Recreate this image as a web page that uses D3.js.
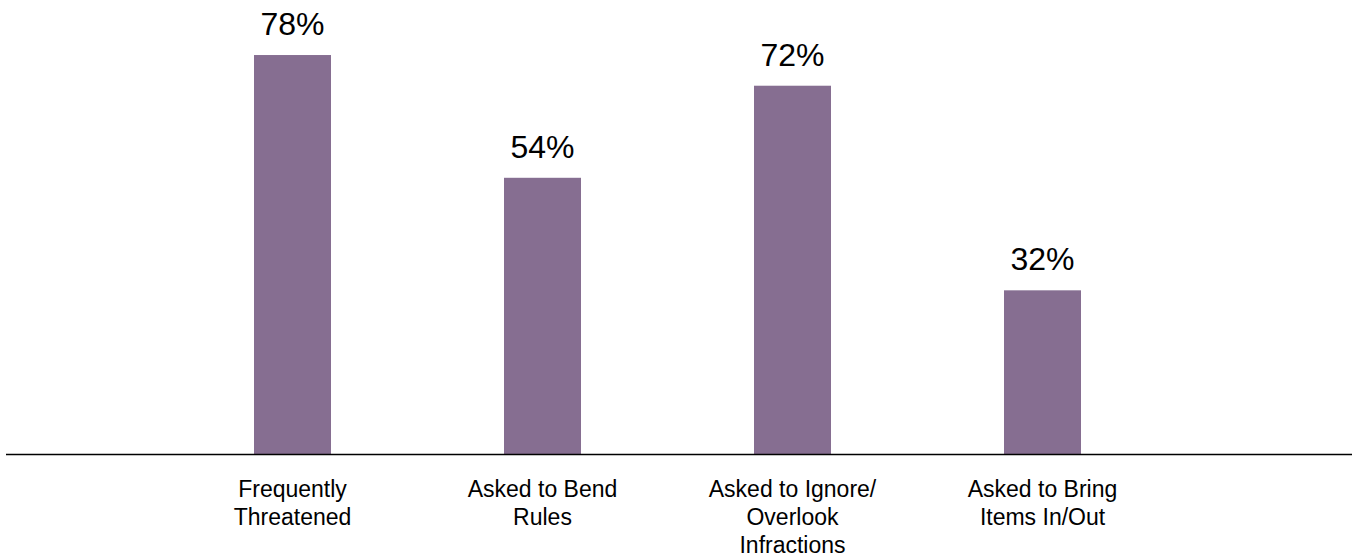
<!DOCTYPE html>
<html>
<head>
<meta charset="utf-8">
<script src="https://cdnjs.cloudflare.com/ajax/libs/d3/7.8.5/d3.min.js"></script>
<style>
  body { margin: 0; background: #fff; }
  text { font-family: "Liberation Sans", Arial, Helvetica, sans-serif; fill: #000; }
</style>
</head>
<body>
<div id="chart"></div>
<script>
// data
var categories = [
  ["Frequently", "Threatened"],
  ["Asked to Bend", "Rules"],
  ["Asked to Ignore/", "Overlook", "Infractions"],
  ["Asked to Bring", "Items In/Out"]
];
var values = [78, 54, 72, 32];
var valueLabels = ["78%", "54%", "72%", "32%"];

var width = 1352,
  height = 559,
  baseline = 454;

var svg = d3.select("#chart").append("svg")
  .attr("width", width)
  .attr("height", height);

var x = d3.scaleBand()
  .domain(d3.range(categories.length))
  .range([167.5, 1167.5])
  .paddingInner(0.692)
  .paddingOuter(0.346);

var y = d3.scaleLinear()
  .domain([0, 100])
  .range([baseline, baseline - 511.5]);

// bars
svg.selectAll("rect.bar")
  .data(values)
  .enter().append("rect")
  .attr("class", "bar")
  .attr("x", function (d, i) { return x(i); })
  .attr("width", x.bandwidth())
  .attr("y", function (d) { return y(d); })
  .attr("height", function (d) { return y(0) - y(d); })
  .style("fill", "#866e91");

// value labels
svg.selectAll("text.val")
  .data(values)
  .enter().append("text")
  .attr("class", "val")
  .attr("x", function (d, i) { return x(i) + x.bandwidth() / 2; })
  .attr("y", function (d) { return y(d) - 20; })
  .attr("text-anchor", "middle")
  .style("font-size", "32px")
  .text(function (d, i) { return valueLabels[i]; });

// axis line
svg.append("line")
  .attr("x1", 6)
  .attr("x2", width)
  .attr("y1", baseline + 0.5)
  .attr("y2", baseline + 0.5)
  .style("stroke", "#000")
  .style("stroke-width", 1.5);

// category labels
var cat = svg.selectAll("text.cat")
  .data(categories)
  .enter().append("text")
  .attr("class", "cat")
  .attr("text-anchor", "middle")
  .style("font-size", "23px")
  .attr("transform", function (d, i) {
    return "translate(" + (x(i) + x.bandwidth() / 2) + "," + (baseline + 43) + ")";
  });

cat.selectAll("tspan")
  .data(function (d) { return d; })
  .enter().append("tspan")
  .attr("x", 0)
  .attr("y", function (d, j) { return j * 28; })
  .text(function (d) { return d; });
</script>
</body>
</html>
